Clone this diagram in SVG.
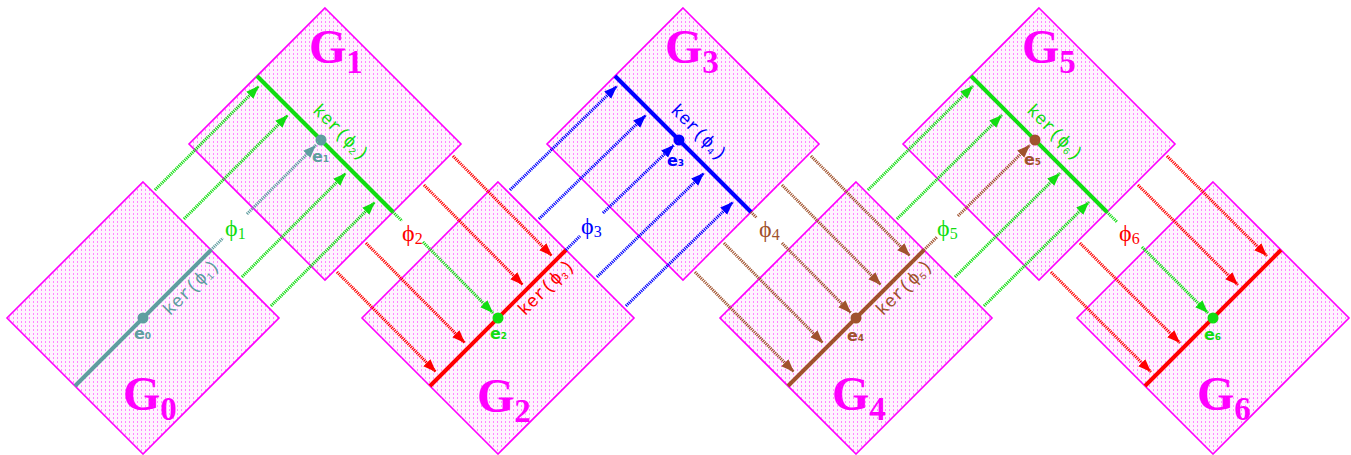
<svg xmlns="http://www.w3.org/2000/svg" width="1351" height="455" viewBox="0 0 1351 455">
<defs>
<pattern id="dots" x="0" y="0" width="4" height="4" patternUnits="userSpaceOnUse"><rect x="0" y="0" width="4" height="4" fill="#fff4ff"/><rect x="1" y="1" width="1" height="2" fill="#ff88ff"/></pattern>
<marker id="mG" markerUnits="userSpaceOnUse" markerWidth="14" markerHeight="12" refX="13" refY="5" orient="auto"><path d="M0,0 L13,5 L0,10 Z" fill="#11dd11"/></marker>
<marker id="mR" markerUnits="userSpaceOnUse" markerWidth="14" markerHeight="12" refX="13" refY="5" orient="auto"><path d="M0,0 L13,5 L0,10 Z" fill="#ff0000"/></marker>
<marker id="mB" markerUnits="userSpaceOnUse" markerWidth="14" markerHeight="12" refX="13" refY="5" orient="auto"><path d="M0,0 L13,5 L0,10 Z" fill="#0000ff"/></marker>
<marker id="mN" markerUnits="userSpaceOnUse" markerWidth="14" markerHeight="12" refX="13" refY="5" orient="auto"><path d="M0,0 L13,5 L0,10 Z" fill="#a0522d"/></marker>
<marker id="mY" markerUnits="userSpaceOnUse" markerWidth="14" markerHeight="12" refX="13" refY="5" orient="auto"><path d="M0,0 L13,5 L0,10 Z" fill="#5f9ea0"/></marker>
</defs>
<style>
.box{fill:url(#dots);stroke:#ff00ff;stroke-width:1.6}
.kl{stroke-width:4;fill:none}
.dl{fill:none;stroke-width:3;stroke-dasharray:1.2 0.9}
.G{font-family:"Liberation Serif",serif;font-weight:bold;fill:#ff00ff;font-size:48px}
.s{font-size:33px}
.ker{font-family:"Liberation Mono","DejaVu Sans Mono",monospace;font-size:18px}
.e{font-family:"DejaVu Sans",sans-serif;font-weight:bold;font-size:16px}
.es{font-size:9px}
.phi{font-family:"Liberation Serif","DejaVu Serif",serif;font-size:24px}
.ps{font-size:16px}
.green{stroke:#11dd11}.red{stroke:#ff0000}.blue{stroke:#0000ff}.brown{stroke:#a0522d}.grey{stroke:#5f9ea0}
.tg{fill:#11dd11}.tr{fill:#ff0000}.tb{fill:#0000ff}.tn{fill:#a0522d}.ty{fill:#5f9ea0}
</style>
<rect width="1351" height="455" fill="#ffffff"/>

<g id="G0">
<polygon class="box" points="143,182 279,318 143,454 7,318"/>
<line class="kl grey" x1="75" y1="386" x2="211" y2="250"/>
<circle cx="143" cy="318" r="5.5" class="ty"/>
<text class="ker ty" transform="translate(143,318) rotate(-45)" x="20" y="18">ker(ϕ<tspan font-size="10" dy="3">1</tspan><tspan dy="-3">)</tspan></text>
<text class="e ty" x="134" y="339">e<tspan class="es">0</tspan></text>
<text class="G" x="123" y="410">G<tspan class="s" dy="10">0</tspan></text>
</g>

<g id="G1">
<polygon class="box" points="325,8 461,144 325,280 189,144"/>
<line class="kl green" x1="257" y1="76" x2="393" y2="212"/>
<circle cx="321" cy="140" r="5.5" class="ty"/>
<text class="ker tg" transform="translate(321,140) rotate(45)" x="-27" y="-14">ker(ϕ<tspan font-size="10" dy="3">2</tspan><tspan dy="-3">)</tspan></text>
<text class="e ty" x="312" y="162">e<tspan class="es">1</tspan></text>
<text class="G" x="309" y="63">G<tspan class="s" dy="10">1</tspan></text>
</g>

<g id="G2">
<polygon class="box" points="498,182 634,318 498,454 362,318"/>
<line class="kl red" x1="430" y1="386" x2="566" y2="250"/>
<circle cx="498" cy="318" r="5.5" class="tg"/>
<text class="ker tr" transform="translate(498,318) rotate(-45)" x="20" y="18">ker(ϕ<tspan font-size="10" dy="3">3</tspan><tspan dy="-3">)</tspan></text>
<text class="e tg" x="490" y="339">e<tspan class="es">2</tspan></text>
<text class="G" x="477" y="412">G<tspan class="s" dy="10">2</tspan></text>
</g>

<g id="G3">
<polygon class="box" points="683,8 819,144 683,280 547,144"/>
<line class="kl blue" x1="615" y1="76" x2="751" y2="212"/>
<circle cx="679" cy="140" r="5.5" class="tb"/>
<text class="ker tb" transform="translate(679,140) rotate(45)" x="-27" y="-14">ker(ϕ<tspan font-size="10" dy="3">4</tspan><tspan dy="-3">)</tspan></text>
<text class="e tb" x="667" y="166">e<tspan class="es">3</tspan></text>
<text class="G" x="665" y="63">G<tspan class="s" dy="10">3</tspan></text>
</g>

<g id="G4">
<polygon class="box" points="856,182 992,318 856,454 720,318"/>
<line class="kl brown" x1="788" y1="386" x2="924" y2="250"/>
<circle cx="856" cy="318" r="5.5" class="tn"/>
<text class="ker tn" transform="translate(856,318) rotate(-45)" x="20" y="18">ker(ϕ<tspan font-size="10" dy="3">5</tspan><tspan dy="-3">)</tspan></text>
<text class="e tn" x="847" y="341">e<tspan class="es">4</tspan></text>
<text class="G" x="832" y="410">G<tspan class="s" dy="10">4</tspan></text>
</g>

<g id="G5">
<polygon class="box" points="1039,8 1175,144 1039,280 903,144"/>
<line class="kl green" x1="971" y1="76" x2="1107" y2="212"/>
<circle cx="1035" cy="140" r="5.5" class="tn"/>
<text class="ker tg" transform="translate(1035,140) rotate(45)" x="-27" y="-14">ker(ϕ<tspan font-size="10" dy="3">6</tspan><tspan dy="-3">)</tspan></text>
<text class="e tn" x="1024" y="165">e<tspan class="es">5</tspan></text>
<text class="G" x="1022" y="63">G<tspan class="s" dy="10">5</tspan></text>
</g>

<g id="G6">
<polygon class="box" points="1213,182 1349,318 1213,454 1077,318"/>
<line class="kl red" x1="1145" y1="386" x2="1281" y2="250"/>
<circle cx="1213" cy="318" r="5.5" class="tg"/>
<text class="e tg" x="1204" y="340">e<tspan class="es">6</tspan></text>
<text class="G" x="1197" y="410">G<tspan class="s" dy="10">6</tspan></text>
</g>

<g id="connectors">
<g class="dl green" marker-end="url(#mG)">
<line x1="155" y1="190" x2="259" y2="86"/>
<line x1="184" y1="219" x2="288" y2="115"/>
<line x1="242" y1="277" x2="346" y2="173"/>
<line x1="271" y1="306" x2="375" y2="202"/>
</g>
<line class="dl grey" x1="211" y1="250" x2="223" y2="238"/>
<line class="dl grey" x1="247" y1="214" x2="316" y2="145" marker-end="url(#mY)"/>
<text class="phi tg" x="225" y="236">ϕ<tspan class="ps" dy="3">1</tspan></text>

<g class="dl red" marker-end="url(#mR)">
<line x1="337" y1="272" x2="436" y2="372"/>
<line x1="366" y1="243" x2="465" y2="343"/>
<line x1="424" y1="185" x2="523" y2="285"/>
<line x1="453" y1="156" x2="552" y2="256"/>
</g>
<line class="dl green" x1="393" y1="212" x2="402" y2="221"/>
<line class="dl green" x1="423" y1="242" x2="493" y2="313" marker-end="url(#mG)"/>
<text class="phi tr" x="402" y="241">ϕ<tspan class="ps" dy="3">2</tspan></text>

<g class="dl blue" marker-end="url(#mB)">
<line x1="510" y1="190" x2="617" y2="86"/>
<line x1="539" y1="219" x2="646" y2="115"/>
<line x1="597" y1="277" x2="704" y2="173"/>
<line x1="626" y1="306" x2="733" y2="202"/>
</g>
<line class="dl blue" x1="566" y1="250" x2="580" y2="236"/>
<line class="dl blue" x1="603" y1="213" x2="674" y2="145" marker-end="url(#mB)"/>
<text class="phi tb" x="581" y="234">ϕ<tspan class="ps" dy="3">3</tspan></text>

<g class="dl brown" marker-end="url(#mN)">
<line x1="695" y1="272" x2="794" y2="372"/>
<line x1="724" y1="243" x2="823" y2="343"/>
<line x1="782" y1="185" x2="881" y2="285"/>
<line x1="811" y1="156" x2="910" y2="256"/>
</g>
<line class="dl brown" x1="751" y1="212" x2="757" y2="218"/>
<line class="dl brown" x1="782" y1="243" x2="851" y2="313" marker-end="url(#mN)"/>
<text class="phi tn" x="759" y="237">ϕ<tspan class="ps" dy="3">4</tspan></text>

<g class="dl green" marker-end="url(#mG)">
<line x1="868" y1="190" x2="973" y2="86"/>
<line x1="897" y1="219" x2="1002" y2="115"/>
<line x1="955" y1="277" x2="1060" y2="173"/>
<line x1="984" y1="306" x2="1089" y2="202"/>
</g>
<line class="dl brown" x1="924" y1="250" x2="937" y2="237"/>
<line class="dl brown" x1="958" y1="216" x2="1030" y2="145" marker-end="url(#mN)"/>
<text class="phi tg" x="937" y="236">ϕ<tspan class="ps" dy="3">5</tspan></text>

<g class="dl red" marker-end="url(#mR)">
<line x1="1051" y1="272" x2="1151" y2="372"/>
<line x1="1080" y1="243" x2="1180" y2="343"/>
<line x1="1138" y1="185" x2="1238" y2="285"/>
<line x1="1167" y1="156" x2="1267" y2="256"/>
</g>
<line class="dl green" x1="1107" y1="212" x2="1117" y2="222"/>
<line class="dl green" x1="1142" y1="247" x2="1208" y2="313" marker-end="url(#mG)"/>
<text class="phi tr" x="1119" y="241">ϕ<tspan class="ps" dy="3">6</tspan></text>
</g>
</svg>
